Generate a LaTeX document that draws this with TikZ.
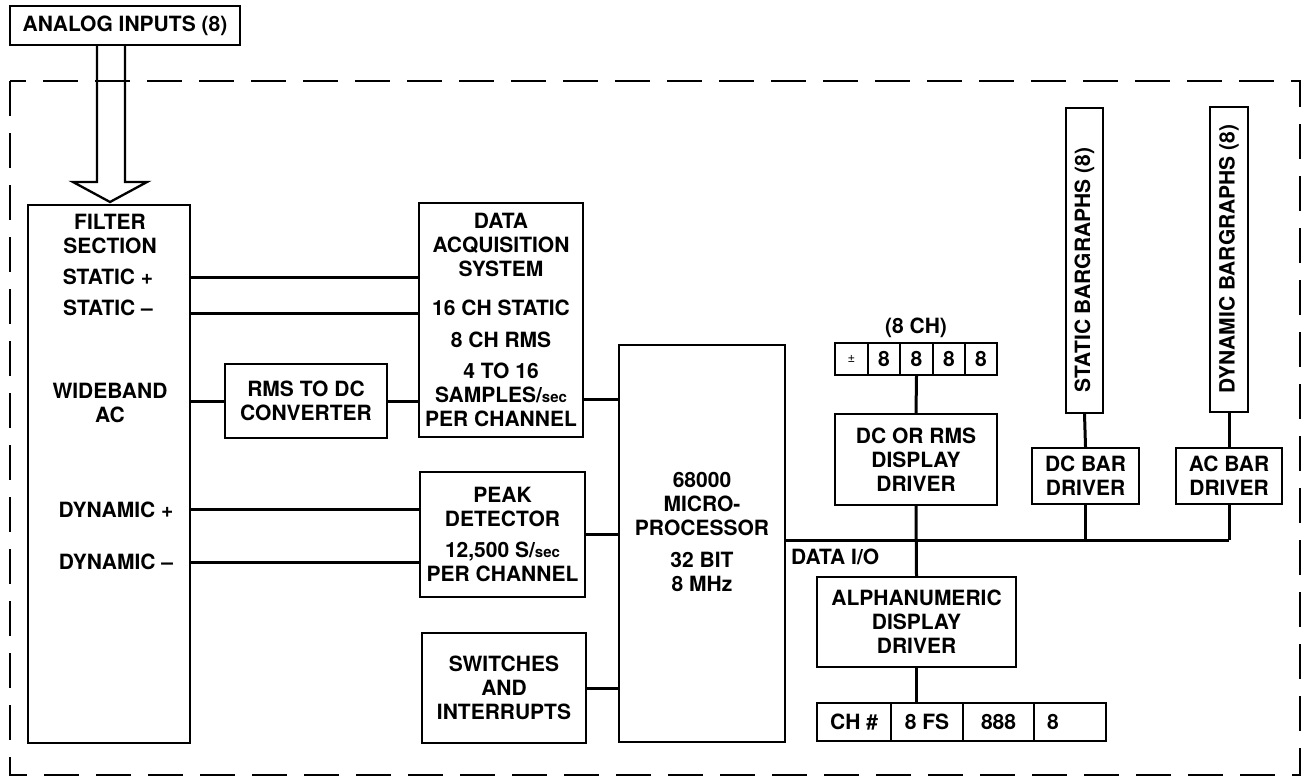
\documentclass[tikz,border=0pt]{standalone}
\usepackage{fontspec}
\setmainfont{TeX Gyre Heros}
\usetikzlibrary{calc}
\newcommand\dfont{\fontsize{21}{24}\selectfont\bfseries}
\newcommand\smallsec{{\fontsize{15}{24}\selectfont sec}}
\newcommand\bx[6]{\node[box, minimum width={(#4)-(#2)}, minimum height={(#5)-(#3)}] (#1) at ({((#2)+(#4))/2},{((#3)+(#5))/2}) {#6};}
\begin{document}
\begin{tikzpicture}[x=1pt,y=-1pt,
  box/.style={draw, line width=2pt, inner sep=0pt, align=center, font=\dfont},
  txt/.style={inner sep=0pt, align=center, font=\dfont},
  conn/.style={line width=3pt},
  arrowline/.style={line width=2.3pt, line join=miter},
  border/.style={line width=2pt, dash pattern=on 35pt off 17pt}
]
\useasboundingbox (0,0) rectangle (1308,779);

% dashed enclosure
\draw[border] (10,81) rectangle (1300,775);

% boxes
\bx{analog}{10}{6}{240}{45}{ANALOG INPUTS (8)}
\bx{filter}{28}{205}{190}{743}{}
\bx{rms}{225}{364}{387}{438}{RMS TO DC\\CONVERTER}
\bx{das}{419}{203}{583}{437}{DATA\\ACQUISITION\\SYSTEM\\[15pt]16 CH STATIC\\[8pt]8 CH RMS\\[7pt]4 TO 16\\SAMPLES/\smallsec\\PER CHANNEL}
\bx{peak}{420}{472}{585}{597}{PEAK\\DETECTOR\\[7pt]12,500 S/\smallsec\\PER CHANNEL}
\bx{switches}{422}{633}{586}{743}{SWITCHES\\AND\\INTERRUPTS}
\bx{micro}{619}{345}{785}{742}{}
\node[txt] (microtxt) at (702,532) {68000\\MICRO-\\PROCESSOR\\[8pt]32 BIT\\8 MHz};

% filter labels
\node[txt] (ft1) at (110,234) {FILTER\\SECTION};
\node[txt] (ft2) at (108,277) {STATIC +};
\node[txt] (ft3) at (108,308) {STATIC --};
\node[txt] (ft4) at (110,403) {WIDEBAND\\AC};
\node[txt] (ft5) at (116,510) {DYNAMIC +};
\node[txt] (ft6) at (116,562) {DYNAMIC --};

% numeric display
\node[txt] (chlabel) at (916,328) {(8 CH)};
\bx{d0}{835}{343}{868}{375}{\fontsize{13}{14}\selectfont\mdseries ±}
\bx{d1}{868}{343}{900}{375}{8}
\bx{d2}{900}{343}{933}{375}{8}
\bx{d3}{933}{343}{965}{375}{8}
\bx{d4}{965}{343}{997}{375}{8}
\bx{dcrms}{835}{414}{997}{505}{DC OR RMS\\DISPLAY\\DRIVER}

% bar graphs
\bx{sbar}{1066}{108}{1103}{413}{}
\node[txt, rotate=90] (sbartxt) at (1084.5,270) {STATIC BARGRAPHS (8)};
\bx{dbar}{1210}{107}{1248}{412}{}
\node[txt, rotate=90] (dbartxt) at (1229,259) {DYNAMIC BARGRAPHS (8)};
\bx{dcbar}{1032}{448}{1139}{504}{DC BAR\\DRIVER}
\bx{acbar}{1176}{448}{1282}{504}{AC BAR\\DRIVER}

% alphanumeric
\bx{alpha}{817}{577}{1016}{667}{ALPHANUMERIC\\DISPLAY\\DRIVER}
\bx{l1}{817}{703}{891}{741}{CH \#}
\bx{l2}{891}{703}{963}{741}{8 FS}
\bx{l3}{963}{703}{1034}{741}{888}
\bx{l4}{1034}{703}{1106}{741}{}
\node[txt, anchor=west] (l4txt) at (1047,722) {8};
\node[txt, anchor=west] (dataio) at (791,557) {DATA I/O};

% hollow input arrow
\coordinate (tip) at ($(filter.north)+(1,-2)$);
\coordinate (sl) at ($(tip)+(-13,-20)$);
\coordinate (sr) at ($(tip)+(15,-20)$);
\coordinate (hl) at ($(tip)+(-37,-20)$);
\coordinate (hr) at ($(tip)+(37,-20)$);
\draw[arrowline] (sl |- analog.south) -- (sl) -- (hl) -- (tip) -- (hr) -- (sr) -- (sr |- analog.south);

% connectors
\coordinate (ysp) at (0,277);
\coordinate (ysm) at (0,313);
\coordinate (ywb) at (0,401);
\coordinate (ydas) at (0,399);
\coordinate (ydp) at (0,509);
\coordinate (ydm) at (0,562);
\coordinate (bus) at (0,540);
\draw[conn] (filter.east |- ysp) -- (das.west |- ysp);
\draw[conn] (filter.east |- ysm) -- (das.west |- ysm);
\draw[conn] (filter.east |- ywb) -- (rms.west |- ywb);
\draw[conn] (rms.east |- ywb) -- (das.west |- ywb);
\draw[conn] (das.east |- ydas) -- (micro.west |- ydas);
\draw[conn] (filter.east |- ydp) -- (peak.west |- ydp);
\draw[conn] (filter.east |- ydm) -- (peak.west |- ydm);
\draw[conn] (peak.east) -- (micro.west |- peak.east);
\draw[conn] (switches.east) -- (micro.west |- switches.east);
\draw[conn] (micro.east |- bus) -- (acbar.south |- bus);
\draw[conn] (d2.south) -- (dcrms.north);
\draw[conn] (dcrms.south) -- (alpha.north);
\draw[conn] (alpha.south) -- (alpha.south |- l2.north);
\draw[conn] (dcbar.south) -- (dcbar.south |- bus);
\draw[conn] (acbar.south) -- (acbar.south |- bus);
\draw[conn] (sbar.south) -- (dcbar.north);
\draw[conn] (dbar.south) -- (acbar.north);
\end{tikzpicture}
\end{document}
